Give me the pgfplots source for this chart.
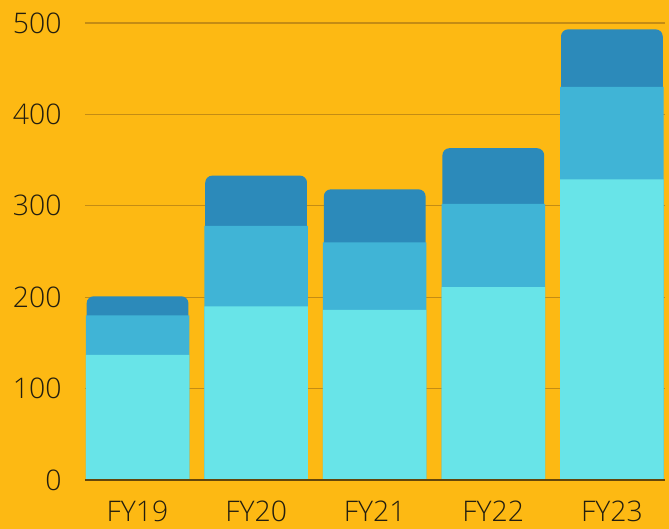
\documentclass[border=0pt]{standalone}
\usepackage{pgfplots}
\pgfplotsset{compat=1.18}
\usepackage{fontspec}
\IfFontExistsTF{Open Sans Light}{\setmainfont{Open Sans Light}}{\setmainfont{Open Sans}}
\definecolor{bg}{RGB}{253,185,19}
\definecolor{gridc}{RGB}{196,140,20}
\definecolor{axc}{RGB}{100,70,10}
\definecolor{cyanA}{RGB}{104,228,232}
\definecolor{cyanB}{RGB}{64,180,214}
\definecolor{cyanC}{RGB}{44,138,186}
\definecolor{txt}{RGB}{35,30,15}
\begin{document}
\begin{tikzpicture}[x=1bp,y=1bp]
\fill[bg] (-85,-49) rectangle (584,480);
\begin{axis}[
  at={(0,0)}, anchor=south west,
  scale only axis, width=580bp, height=457bp,
  xmin=-0.443, xmax=4.448, ymin=0, ymax=500,
  clip=false,
  axis line style={draw=none},
  ytick={0,100,200,300,400,500},
  xtick={0,1,2,3,4},
  xticklabels={FY19,FY20,FY21,FY22,FY23},
  major tick length=0pt,
  ymajorgrids, grid style={gridc, line width=1.3bp},
  /pgf/number format/assume math mode=true,
  tick label style={font=\fontsize{28.5}{30}\selectfont, text=txt},
  yticklabel style={xshift=-20bp},
  xticklabel style={yshift=-17bp},
  ybar, bar shift=0pt,
]
\addplot[fill=cyanC, draw=none, bar width=0.858, rounded corners=7bp] coordinates {(0,201) (1,333) (2,318) (3,363) (4,493)};
\addplot[fill=cyanB, draw=none, bar width=0.873] coordinates {(0,180) (1,278) (2,260) (3,302) (4,430)};
\addplot[fill=cyanA, draw=none, bar width=0.873] coordinates {(0,137) (1,190) (2,186) (3,211) (4,329)};
\draw[axc, line width=1.5bp] (axis cs:-0.443,0) -- (axis cs:4.448,0);
\end{axis}
\end{tikzpicture}
\end{document}
